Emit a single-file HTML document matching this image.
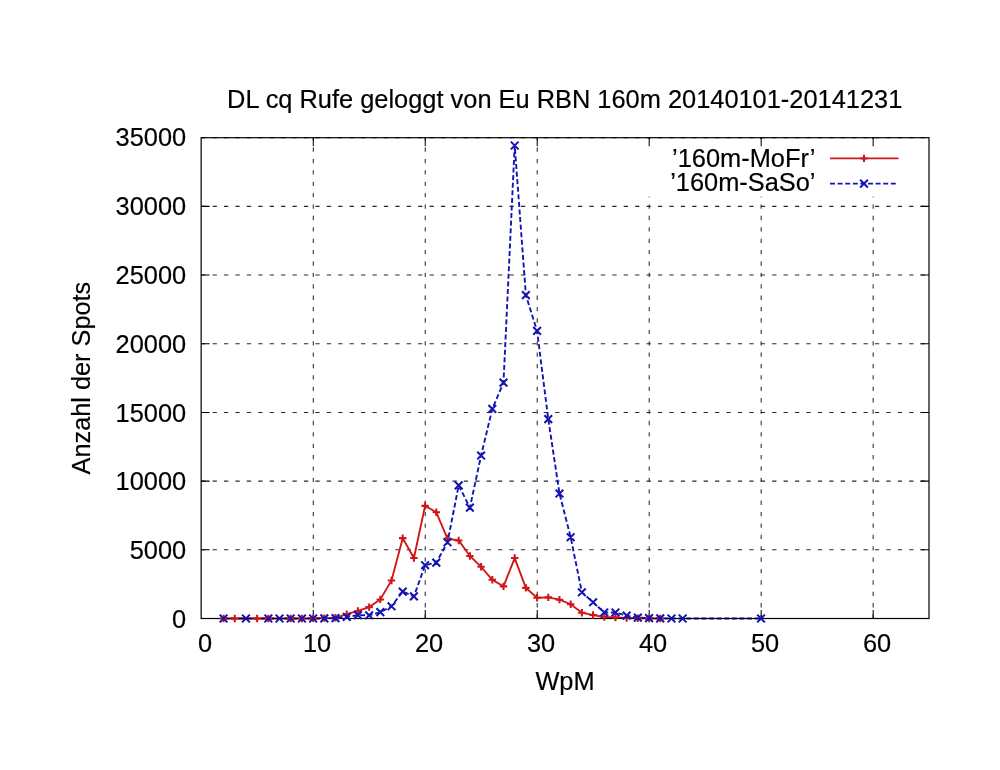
<!DOCTYPE html>
<html lang="de"><head><meta charset="utf-8"><title>DL cq Rufe geloggt von Eu RBN 160m</title>
<style>html,body{margin:0;padding:0;background:#fff;overflow:hidden}svg{display:block}text{font-family:'Liberation Sans',Arial,Helvetica,sans-serif;font-size:25.4px;fill:#000;stroke:#000;stroke-width:0.18px}</style>
</head><body>
<svg width="1000" height="770" viewBox="0 0 1000 770">
<rect width="1000" height="770" fill="#fff"/>
<g stroke="#2a2a2a" stroke-width="1.05" stroke-dasharray="4.3 7.12" fill="none">
<path d="M201.15 549.81H929.00"/>
<path d="M201.15 481.13H929.00"/>
<path d="M201.15 412.44H929.00"/>
<path d="M201.15 343.76H929.00"/>
<path d="M201.15 275.07H929.00"/>
<path d="M201.15 206.39H929.00"/>
<path d="M201.15 137.70H929.00"/>
</g>
<g stroke="#2a2a2a" stroke-width="1.05" stroke-dasharray="4.3 7.09" fill="none">
<path d="M313.28 618.80V137.70"/>
<path d="M425.25 618.80V137.70"/>
<path d="M537.23 618.80V137.70"/>
<path d="M649.21 618.80V137.70"/>
<path d="M761.18 618.80V137.70"/>
<path d="M873.16 618.80V137.70"/>
</g>
<g stroke="#000" stroke-width="1.05" fill="none">
<path d="M201.15 549.81h8.50M929.00 549.81h-8.50"/>
<path d="M201.15 481.13h8.50M929.00 481.13h-8.50"/>
<path d="M201.15 412.44h8.50M929.00 412.44h-8.50"/>
<path d="M201.15 343.76h8.50M929.00 343.76h-8.50"/>
<path d="M201.15 275.07h8.50M929.00 275.07h-8.50"/>
<path d="M201.15 206.39h8.50M929.00 206.39h-8.50"/>
<path d="M313.28 618.50v-8.50M313.28 137.70v8.50"/>
<path d="M425.25 618.50v-8.50M425.25 137.70v8.50"/>
<path d="M537.23 618.50v-8.50M537.23 137.70v8.50"/>
<path d="M649.21 618.50v-8.50M649.21 137.70v8.50"/>
<path d="M761.18 618.50v-8.50M761.18 137.70v8.50"/>
<path d="M873.16 618.50v-8.50M873.16 137.70v8.50"/>
</g>
<rect x="600" y="139" width="327" height="57.5" fill="#fff"/>
<g stroke="#000" stroke-width="1.05" fill="none">
<path d="M649.21 137.70v8.50"/>
<path d="M761.18 137.70v8.50"/>
<path d="M873.16 137.70v8.50"/>
</g>
<path fill="none" stroke="#1414b4" stroke-width="1.9" stroke-dasharray="5 2.6" stroke-dashoffset="0.00" d="M223.55 618.50L245.94 618.50L268.34 618.50L279.53 618.50L290.73 618.50L301.93 618.50L313.13 618.50L324.32 618.43"/>
<path fill="none" stroke="#d01616" stroke-width="1.85" d="M223.55 618.50L234.74 618.50L257.14 618.50L268.34 618.50L290.73 618.50L301.93 618.50L313.13 618.36L324.32 618.09L335.52 617.81L346.72 614.10L357.92 610.94L369.12 607.10L380.31 599.41L391.51 580.45L402.71 538.14L413.91 558.06L425.10 505.86L436.30 512.31L447.50 538.55L458.70 540.47L469.89 555.93L481.09 566.82L492.29 579.82L503.49 586.36L514.69 558.06L525.88 587.87L537.08 597.70L548.28 597.37L559.48 599.65L570.67 604.19L581.87 612.73L593.07 615.07L604.27 616.99L615.46 617.47L626.66 617.95L637.86 618.29L649.06 618.43L660.26 618.50"/>
<path fill="none" stroke="#1414b4" stroke-width="1.9" stroke-dasharray="5 2.6" stroke-dashoffset="1.04" d="M626.66 615.68L637.86 617.61L649.06 618.09L660.26 618.36L671.45 618.50L682.65 618.50L761.03 618.50"/>
<rect x="201.15" y="137.70" width="727.85" height="480.80" fill="none" stroke="#000" stroke-width="1.2"/>
<path fill="none" stroke="#d01616" stroke-width="2.05" d="M219.85 618.50h7.40M223.55 614.80v7.40M231.04 618.50h7.40M234.74 614.80v7.40M253.44 618.50h7.40M257.14 614.80v7.40M264.64 618.50h7.40M268.34 614.80v7.40M287.03 618.50h7.40M290.73 614.80v7.40M298.23 618.50h7.40M301.93 614.80v7.40M309.43 618.36h7.40M313.13 614.66v7.40M320.62 618.09h7.40M324.32 614.39v7.40M331.82 617.81h7.40M335.52 614.11v7.40M343.02 614.10h7.40M346.72 610.40v7.40M354.22 610.94h7.40M357.92 607.24v7.40M365.42 607.10h7.40M369.12 603.40v7.40M376.61 599.41h7.40M380.31 595.71v7.40M387.81 580.45h7.40M391.51 576.75v7.40M399.01 538.14h7.40M402.71 534.44v7.40M410.21 558.06h7.40M413.91 554.36v7.40M421.40 505.86h7.40M425.10 502.16v7.40M432.60 512.31h7.40M436.30 508.61v7.40M443.80 538.55h7.40M447.50 534.85v7.40M455.00 540.47h7.40M458.70 536.77v7.40M466.19 555.93h7.40M469.89 552.23v7.40M477.39 566.82h7.40M481.09 563.12v7.40M488.59 579.82h7.40M492.29 576.12v7.40M499.79 586.36h7.40M503.49 582.66v7.40M510.99 558.06h7.40M514.69 554.36v7.40M522.18 587.87h7.40M525.88 584.17v7.40M533.38 597.70h7.40M537.08 594.00v7.40M544.58 597.37h7.40M548.28 593.67v7.40M555.78 599.65h7.40M559.48 595.95v7.40M566.97 604.19h7.40M570.67 600.49v7.40M578.17 612.73h7.40M581.87 609.03v7.40M589.37 615.07h7.40M593.07 611.37v7.40M600.57 616.99h7.40M604.27 613.29v7.40M611.76 617.47h7.40M615.46 613.77v7.40M622.96 617.95h7.40M626.66 614.25v7.40M634.16 618.29h7.40M637.86 614.59v7.40M645.36 618.43h7.40M649.06 614.73v7.40M656.56 618.50h7.40M660.26 614.80v7.40"/>
<path fill="none" stroke="#1414b4" stroke-width="1.9" stroke-dasharray="5 2.6" stroke-dashoffset="1.98" d="M324.32 618.43L335.52 618.16L346.72 616.99L357.92 615.07L369.12 615.27L380.31 612.18L391.51 606.27L402.71 591.58L413.91 596.38L425.10 565.20L436.30 562.59L447.50 542.26L458.70 485.39L469.89 507.64L481.09 455.55L492.29 408.94L503.49 382.56L514.69 145.50L525.88 295.13L537.08 330.93L548.28 419.17L559.48 493.55L570.67 537.24L581.87 592.26L593.07 602.29L604.27 612.46L615.46 612.46L626.66 615.68"/>
<path fill="none" stroke="#1414b4" stroke-width="2.05" d="M219.70 614.65l7.70 7.70M219.70 622.35l7.70 -7.70M242.09 614.65l7.70 7.70M242.09 622.35l7.70 -7.70M264.49 614.65l7.70 7.70M264.49 622.35l7.70 -7.70M275.68 614.65l7.70 7.70M275.68 622.35l7.70 -7.70M286.88 614.65l7.70 7.70M286.88 622.35l7.70 -7.70M298.08 614.65l7.70 7.70M298.08 622.35l7.70 -7.70M309.28 614.65l7.70 7.70M309.28 622.35l7.70 -7.70M320.47 614.58l7.70 7.70M320.47 622.28l7.70 -7.70M331.67 614.31l7.70 7.70M331.67 622.01l7.70 -7.70M342.87 613.14l7.70 7.70M342.87 620.84l7.70 -7.70M354.07 611.22l7.70 7.70M354.07 618.92l7.70 -7.70M365.27 611.42l7.70 7.70M365.27 619.12l7.70 -7.70M376.46 608.33l7.70 7.70M376.46 616.03l7.70 -7.70M387.66 602.42l7.70 7.70M387.66 610.12l7.70 -7.70M398.86 587.73l7.70 7.70M398.86 595.43l7.70 -7.70M410.06 592.53l7.70 7.70M410.06 600.23l7.70 -7.70M421.25 561.35l7.70 7.70M421.25 569.05l7.70 -7.70M432.45 558.74l7.70 7.70M432.45 566.44l7.70 -7.70M443.65 538.41l7.70 7.70M443.65 546.11l7.70 -7.70M454.85 481.54l7.70 7.70M454.85 489.24l7.70 -7.70M466.04 503.79l7.70 7.70M466.04 511.49l7.70 -7.70M477.24 451.70l7.70 7.70M477.24 459.40l7.70 -7.70M488.44 405.09l7.70 7.70M488.44 412.79l7.70 -7.70M499.64 378.71l7.70 7.70M499.64 386.41l7.70 -7.70M510.84 141.65l7.70 7.70M510.84 149.35l7.70 -7.70M522.03 291.28l7.70 7.70M522.03 298.98l7.70 -7.70M533.23 327.08l7.70 7.70M533.23 334.78l7.70 -7.70M544.43 415.32l7.70 7.70M544.43 423.02l7.70 -7.70M555.63 489.70l7.70 7.70M555.63 497.40l7.70 -7.70M566.82 533.39l7.70 7.70M566.82 541.09l7.70 -7.70M578.02 588.41l7.70 7.70M578.02 596.11l7.70 -7.70M589.22 598.44l7.70 7.70M589.22 606.14l7.70 -7.70M600.42 608.61l7.70 7.70M600.42 616.31l7.70 -7.70M611.61 608.61l7.70 7.70M611.61 616.31l7.70 -7.70M622.81 611.83l7.70 7.70M622.81 619.53l7.70 -7.70M634.01 613.76l7.70 7.70M634.01 621.46l7.70 -7.70M645.21 614.24l7.70 7.70M645.21 621.94l7.70 -7.70M656.41 614.51l7.70 7.70M656.41 622.21l7.70 -7.70M667.60 614.65l7.70 7.70M667.60 622.35l7.70 -7.70M678.80 614.65l7.70 7.70M678.80 622.35l7.70 -7.70M757.18 614.65l7.70 7.70M757.18 622.35l7.70 -7.70"/>
<text x="186.2" y="628" text-anchor="end">0</text>
<text x="186.2" y="559" text-anchor="end">5000</text>
<text x="186.2" y="490" text-anchor="end">10000</text>
<text x="186.2" y="422" text-anchor="end">15000</text>
<text x="186.2" y="353" text-anchor="end">20000</text>
<text x="186.2" y="284" text-anchor="end">25000</text>
<text x="186.2" y="215" text-anchor="end">30000</text>
<text x="186.2" y="146" text-anchor="end">35000</text>
<text x="205.15" y="652.3" text-anchor="middle">0</text>
<text x="317.13" y="652.3" text-anchor="middle">10</text>
<text x="429.10" y="652.3" text-anchor="middle">20</text>
<text x="541.08" y="652.3" text-anchor="middle">30</text>
<text x="653.06" y="652.3" text-anchor="middle">40</text>
<text x="765.03" y="652.3" text-anchor="middle">50</text>
<text x="877.01" y="652.3" text-anchor="middle">60</text>
<text x="564.7" y="108" text-anchor="middle">DL cq Rufe geloggt von Eu RBN 160m 20140101-20141231</text>
<text x="565" y="689.8" text-anchor="middle">WpM</text>
<text transform="translate(90.2 378.1) rotate(-90)" text-anchor="middle" style="font-size:25.3px">Anzahl der Spots</text>
<text x="815.5" y="166.5" text-anchor="end">’160m-MoFr’</text>
<text x="815.5" y="191.4" text-anchor="end">’160m-SaSo’</text>
<g fill="none" stroke="#d01616"><path stroke-width="1.85" d="M830 158.4H898.5"/><path stroke-width="2.05" d="M860.30 158.40h7.40M864.00 154.70v7.40"/></g>
<g fill="none" stroke="#1414b4"><path stroke-width="1.9" stroke-dasharray="5 2.6" d="M830 183.6H898.5"/><path stroke-width="2.05" d="M860.15 179.75l7.70 7.70M860.15 187.45l7.70 -7.70"/></g>
</svg></body></html>
